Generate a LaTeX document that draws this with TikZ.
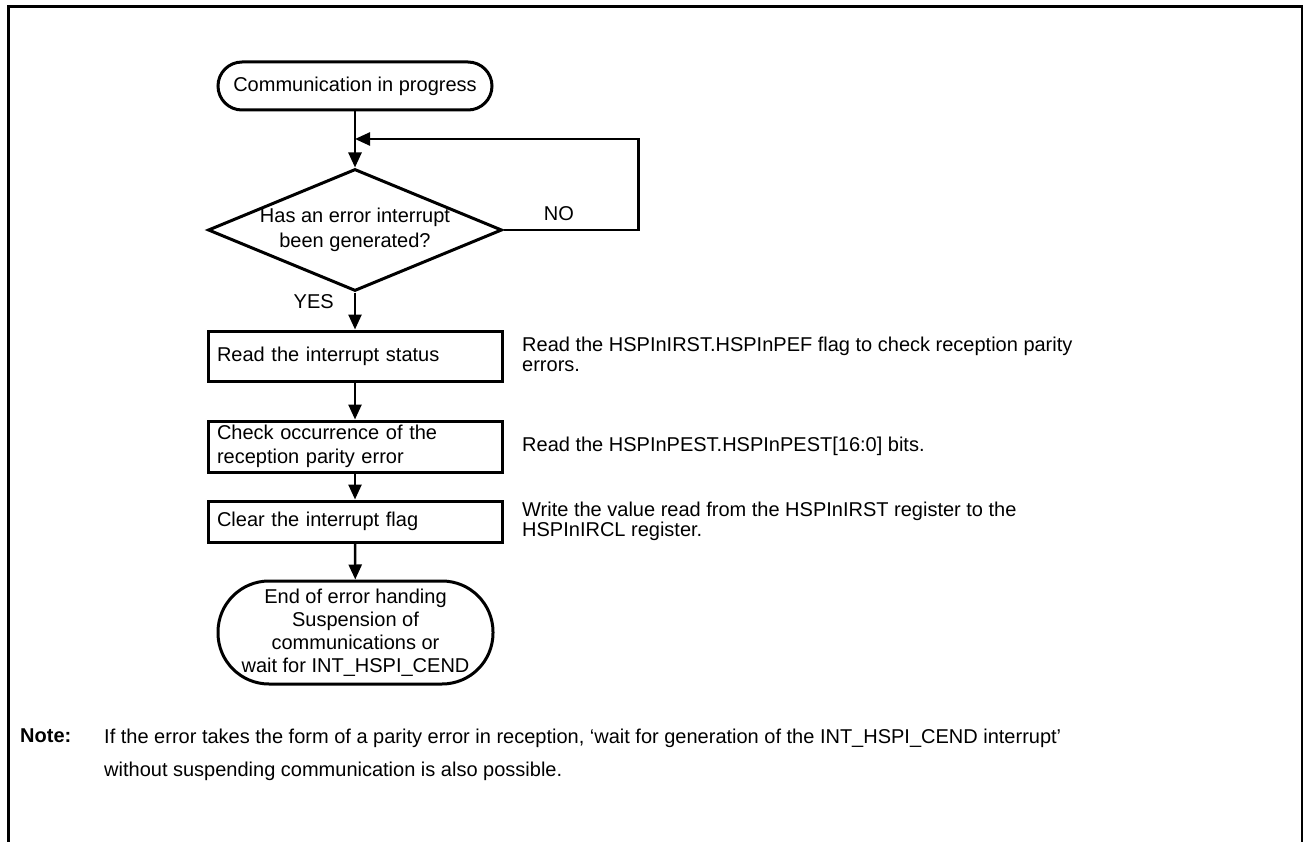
\documentclass[tikz,border=0pt]{standalone}
\usepackage{fontspec}
\setmainfont{Liberation Sans}
\usetikzlibrary{arrows.meta,shapes.geometric}

\begin{document}
\begin{tikzpicture}[x=1pt,y=-1pt,>={Triangle[length=15pt,width=13pt]},
  term/.style={draw,line width=3pt,rounded corners=24pt,minimum width=274pt,minimum height=48pt,inner sep=0pt,align=center,font=\fontsize{20}{23}\selectfont},
  proc/.style={draw,line width=3pt,text width=276pt,inner xsep=9pt,inner ysep=0pt,align=left,font=\fontsize{20}{24}\selectfont},
  decision/.style={draw,line width=3pt,diamond,minimum width=294pt,minimum height=122pt,inner sep=0pt},
  ann/.style={anchor=west,align=left,inner sep=0pt,font=\fontsize{20}{20}\selectfont},
  lbl/.style={inner sep=0pt,font=\fontsize{20}{24}\selectfont},
  arr/.style={->,line width=2.5pt}]
  \useasboundingbox (0,0) rectangle (1303,842);
  % frame
  \draw[line width=3pt] (8,842) -- (8,7) -- (1302,7) -- (1302,842);

  % flow
  \node[term] (st) at (355,86) {Communication in progress};
  \node[decision,label={[lbl,align=center,font=\fontsize{20}{25}\selectfont]center:{Has an error interrupt\\been generated?}}] (dec) at (355,230) {};
  \node[proc,minimum height=50pt] (rd) at (355,356) {Read the interrupt status};
  \node[proc,minimum height=51pt] (chk) at (355,446.5) {Check occurrence of the\\reception parity error};
  \node[proc,minimum height=41pt] (clr) at (355,521.5) {Clear the interrupt flag};
  \node[term,rounded corners=51pt,minimum width=275pt,minimum height=103pt] (fin) at (355.5,632.5) {End of error handing\\Suspension of\\communications or\\wait for INT\_HSPI\_CEND};
  \coordinate (join) at (355,139);

  \draw[arr] (st) -- (dec);
  \draw[arr] (dec.east) -- node[lbl,pos=0.41,above=8pt] {NO} ++(135,0) |- (join);
  \draw[arr] (dec) -- node[lbl,pos=0.25,left=20pt] {YES} (rd);
  \draw[arr] (rd) -- (chk);
  \draw[arr] (chk) -- (clr);
  \draw[arr] (clr) -- (fin);

  % side notes
  \node[ann] (a1) at (522,354) {Read the HSPInIRST.HSPInPEF flag to check reception parity\\errors.};
  \node[ann] (a2) at (522,446) {Read the HSPInPEST.HSPInPEST[16:0] bits.};
  \node[ann] (a3) at (522,521.5) {Write the value read from the HSPInIRST register to the\\HSPInIRCL register.};

  % note
  \node[lbl,anchor=north west,font=\fontsize{20}{24}\selectfont\bfseries] (nt) at (20,729) {Note:};
  \node[lbl,anchor=north west,align=left,font=\fontsize{20}{33}\selectfont] (ntx) at (104,729) {If the error takes the form of a parity error in reception, ‘wait for generation of the INT\_HSPI\_CEND interrupt’\\without suspending communication is also possible.};
\end{tikzpicture}
\end{document}
